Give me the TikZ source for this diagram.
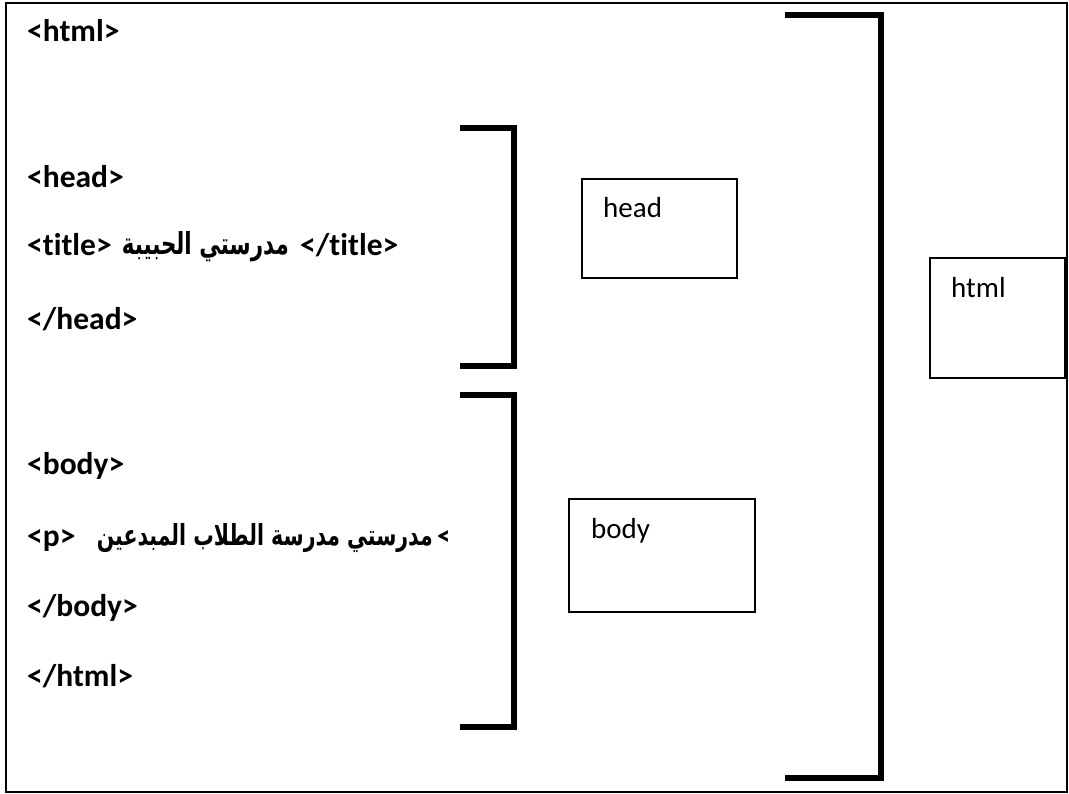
\documentclass[tikz,border=0pt]{standalone}
\usepackage{fontspec}
\usepackage{graphicx}
\setmainfont{Carlito}[Ligatures=NoCommon]
\newfontfamily\arabicfont[Script=Arabic]{DejaVu Sans}
\TeXXeTstate=1
\begin{document}
\begin{tikzpicture}[x=1pt,y=-1pt,
  code/.style={anchor=base west, inner sep=0pt, font=\fontsize{31.5}{37}\selectfont\bfseries},
  arab/.style={anchor=base east, inner sep=0pt, font=\fontsize{24}{30}\selectfont\arabicfont\bfseries},
  lbl/.style={anchor=base west, inner sep=0pt, font=\fontsize{29}{35}\selectfont},
  box/.style={draw, line width=1.3pt, inner sep=0pt},
  bracketline/.style={line width=5.5pt, line join=miter, line cap=butt},
  frame/.style={line width=1.5pt}]
\useasboundingbox (0,0) rectangle (1069,794);
\draw[frame] (6,3) rectangle (1067,792);

% code lines
\node[code] (l1) at (27,42) {<html>};
\node[code] (l2) at (27,188) {<head>};
\node[code] (l3a) at (27,256) {<title>};
\node[arab] (l3b) at (289,255) {\resizebox{167pt}{23pt}{\beginR مدرستي الحبيبة\endR}};
\node[code] (l3c) at (300,256) {</title>};
\node[code] (l4) at (27,330) {</head>};
\node[code] (l5) at (27,475) {<body>};
\node[code] (l6a) at (27,546) {<p>};
\node[arab] (l6b) at (433,545) {\resizebox{336pt}{22pt}{\beginR مدرستي مدرسة الطلاب المبدعين\endR}};
\begin{scope}
\clip (434,500) rectangle (447,570);
\node[code] (l6c) at (437,546) {</p>};
\end{scope}
\node[code] (l7) at (27,616) {</body>};
\node[code] (l8) at (27,686) {</html>};

% brackets
\coordinate (hb1) at (460,128);
\coordinate (hb2) at (514,128);
\coordinate (hb3) at (514,366);
\coordinate (hb4) at (460,366);
\draw[bracketline] (hb1) -- (hb2) -- (hb3) -- (hb4);
\coordinate (bb1) at (460,395);
\coordinate (bb2) at (514,395);
\coordinate (bb3) at (514,727);
\coordinate (bb4) at (460,727);
\draw[bracketline] (bb1) -- (bb2) -- (bb3) -- (bb4);
\coordinate (gb1) at (785,15);
\coordinate (gb2) at (881,15);
\coordinate (gb3) at (881,778);
\coordinate (gb4) at (785,778);
\draw[bracketline] (gb1) -- (gb2) -- (gb3) -- (gb4);

% boxes
\node[box, minimum width=155pt, minimum height=99pt] (headbox) at (659.5,228.5) {};
\node[lbl] (headlbl) at (603,218) {head};
\node[box, minimum width=186pt, minimum height=113pt] (bodybox) at (662,555.5) {};
\node[lbl] (bodylbl) at (591,538) {body};
\node[box, minimum width=135pt, minimum height=120pt] (htmlbox) at (997.5,318) {};
\node[lbl] (htmllbl) at (951,298) {html};
\end{tikzpicture}
\end{document}
